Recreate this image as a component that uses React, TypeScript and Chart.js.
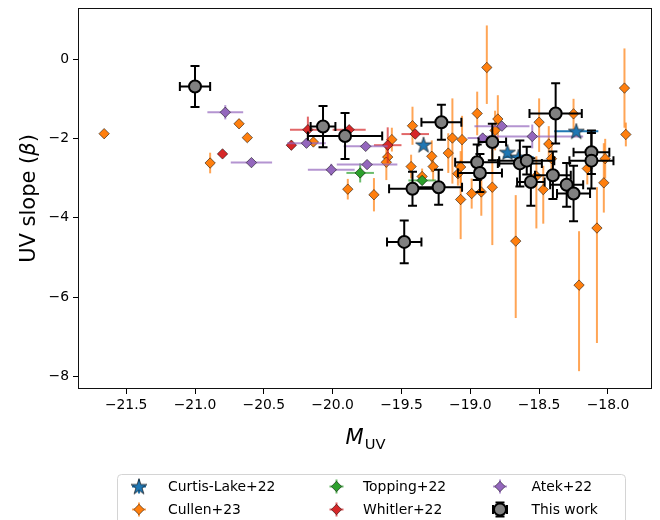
import React, { useEffect, useRef } from 'react';
import { Chart, registerables } from 'chart.js';
Chart.register(...registerables);

// [M_UV, beta, xerr, yerr]
const curtisLake = [
  [-19.34, -2.16, 0.0, 0.0],
  [-18.73, -2.35, 0.0, 0.0],
  [-18.65, -2.47, 0.11, 0.05],
  [-18.23, -1.82, 0.16, 0.05],
];

// [M_UV, beta, yerr_low, yerr_high]
const cullen = [
  [-21.66, -1.88, 0.06, 0.06],
  [-20.89, -2.62, 0.26, 0.26],
  [-20.68, -1.63, 0.08, 0.08],
  [-20.62, -1.98, 0.1, 0.1],
  [-20.14, -2.09, 0.1, 0.1],
  [-19.89, -3.28, 0.26, 0.26],
  [-19.7, -3.42, 0.42, 0.42],
  [-19.57, -2.03, 0.3, 0.3],
  [-19.6, -2.47, 0.2, 0.2],
  [-19.61, -2.6, 0.45, 0.45],
  [-19.42, -1.68, 0.48, 0.48],
  [-19.43, -2.71, 0.3, 0.3],
  [-19.35, -2.96, 0.2, 0.2],
  [-19.28, -2.45, 0.4, 0.4],
  [-19.27, -2.71, 0.35, 0.35],
  [-19.13, -1.99, 1.15, 1.0],
  [-19.06, -2.03, 0.6, 0.6],
  [-19.16, -2.37, 0.5, 0.5],
  [-19.07, -2.72, 0.4, 0.4],
  [-19.09, -2.89, 0.3, 0.3],
  [-19.07, -3.54, 1.0, 1.0],
  [-18.99, -3.39, 0.38, 0.38],
  [-18.95, -1.37, 0.55, 0.55],
  [-18.88, -0.21, 0.92, 1.06],
  [-18.92, -3.35, 0.6, 0.6],
  [-18.84, -3.23, 1.46, 1.0],
  [-18.8, -1.51, 0.6, 0.6],
  [-18.82, -1.8, 0.5, 0.5],
  [-18.67, -4.59, 1.94, 1.16],
  [-18.52, -2.95, 1.32, 0.5],
  [-18.5, -1.59, 0.75, 0.6],
  [-18.47, -3.29, 0.86, 0.6],
  [-18.43, -2.14, 0.45, 0.45],
  [-18.41, -2.51, 0.4, 0.4],
  [-18.25, -1.38, 0.38, 0.38],
  [-18.21, -5.7, 2.17, 1.36],
  [-18.15, -2.76, 0.4, 0.4],
  [-18.08, -4.26, 2.9, 1.03],
  [-18.03, -3.12, 0.75, 1.0],
  [-18.02, -2.51, 0.5, 0.5],
  [-17.88, -0.73, 1.0, 1.0],
  [-17.87, -1.9, 0.3, 0.3],
];

// [M_UV, beta, xerr, yerr]
const topping = [
  [-19.8, -2.87, 0.1, 0.24],
  [-19.35, -3.06, 0.1, 0.1],
];

const whitler = [
  [-20.8, -2.39, 0.03, 0.05],
  [-20.3, -2.17, 0.03, 0.05],
  [-20.18, -1.78, 0.13, 0.33],
  [-19.88, -1.78, 0.12, 0.1],
  [-19.6, -2.17, 0.1, 0.45],
  [-19.4, -1.89, 0.1, 0.1],
];

const atek = [
  [-20.78, -1.34, 0.13, 0.18],
  [-20.59, -2.61, 0.15, 0.03],
  [-20.19, -2.12, 0.14, 0.03],
  [-20.01, -2.79, 0.17, 0.15],
  [-19.76, -2.2, 0.16, 0.03],
  [-19.75, -2.66, 0.22, 0.1],
  [-18.91, -1.99, 0.11, 0.03],
  [-18.77, -1.69, 0.2, 0.03],
  [-18.55, -1.95, 0.37, 0.3],
];

const thisWork = [
  [-21.0, -0.69, 0.11, 0.52],
  [-20.07, -1.7, 0.09, 0.52],
  [-19.91, -1.94, 0.27, 0.58],
  [-19.48, -4.61, 0.125, 0.54],
  [-19.42, -3.27, 0.17, 0.43],
  [-19.23, -3.23, 0.17, 0.44],
  [-19.21, -1.59, 0.145, 0.44],
  [-18.95, -2.6, 0.16, 0.45],
  [-18.93, -2.87, 0.16, 0.48],
  [-18.84, -2.09, 0.1, 0.46],
  [-18.64, -2.63, 0.16, 0.58],
  [-18.59, -2.56, 0.2, 0.35],
  [-18.56, -3.1, 0.1, 0.6],
  [-18.4, -2.93, 0.13, 0.6],
  [-18.38, -1.37, 0.19, 0.76],
  [-18.3, -3.17, 0.12, 0.55],
  [-18.25, -3.39, 0.12, 0.7],
  [-18.12, -2.35, 0.13, 0.55],
  [-18.12, -2.56, 0.16, 0.7],
];

const xTicks = [-21.5, -21.0, -20.5, -20.0, -19.5, -19.0, -18.5, -18.0];
const yTicks = [0, -2, -4, -6, -8];

const X_MIN = -21.85;
const X_MAX = -17.68;
const Y_MIN = -8.32;
const Y_MAX = 1.29;

const FONT = "'DejaVu Sans', sans-serif";

type Row = { x: number; y: number; xl: number; xh: number; yl: number; yh: number };

const symRows = (a: number[][]): Row[] =>
  a.map((r) => ({ x: r[0], y: r[1], xl: r[2], xh: r[2], yl: r[3], yh: r[3] }));
const cullenRows = (a: number[][]): Row[] =>
  a.map((r) => ({ x: r[0], y: r[1], xl: 0, xh: 0, yl: r[2], yh: r[3] }));

function starPath(ctx: CanvasRenderingContext2D, cx: number, cy: number, R: number) {
  const r = R * 0.382;
  ctx.beginPath();
  for (let i = 0; i < 10; i++) {
    const rad = i % 2 === 0 ? R : r;
    const a = -Math.PI / 2 + (i * Math.PI) / 5;
    const px = cx + rad * Math.cos(a);
    const py = cy + rad * Math.sin(a);
    if (i === 0) ctx.moveTo(px, py);
    else ctx.lineTo(px, py);
  }
  ctx.closePath();
}

function makeStar(): HTMLCanvasElement {
  const c = document.createElement('canvas');
  c.width = 20;
  c.height = 20;
  const g = c.getContext('2d')!;
  starPath(g, 10, 10.6, 8.4);
  g.fillStyle = '#1f77b4';
  g.fill();
  g.lineWidth = 0.7;
  g.strokeStyle = '#111';
  g.stroke();
  return c;
}

const fmt = (v: number, d: number) => (v < 0 ? '\u2212' + Math.abs(v).toFixed(d) : v.toFixed(d));

export default function App() {
  const ref = useRef<HTMLCanvasElement>(null);

  useEffect(() => {
    document.body.style.margin = '0';
    const canvas = ref.current!;
    const star = makeStar();

    const sets = [
      { label: 'Curtis-Lake+22', rows: symRows(curtisLake), fill: '#1f77b4', err: '#1f77b4', style: star as any, radius: 8, order: 1, cap: 0, bw: 0, bc: '#111' },
      { label: 'Cullen+23', rows: cullenRows(cullen), fill: '#ff7f0e', err: 'rgba(255,127,14,0.7)', style: 'rectRot', radius: 5.2, order: 5, cap: 0, bw: 0.7, bc: 'rgba(0,0,0,0.75)' },
      { label: 'Topping+22', rows: symRows(topping), fill: '#2ca02c', err: 'rgba(44,160,44,0.7)', style: 'rectRot', radius: 5.2, order: 4, cap: 0, bw: 0.7, bc: 'rgba(0,0,0,0.75)' },
      { label: 'Whitler+22', rows: symRows(whitler), fill: '#d62728', err: 'rgba(214,39,40,0.7)', style: 'rectRot', radius: 5.2, order: 3, cap: 0, bw: 0.7, bc: 'rgba(0,0,0,0.75)' },
      { label: 'Atek+22', rows: symRows(atek), fill: '#9467bd', err: 'rgba(148,103,189,0.7)', style: 'rectRot', radius: 5.2, order: 2, cap: 0, bw: 0.7, bc: 'rgba(0,0,0,0.75)' },
      { label: 'This work', rows: symRows(thisWork), fill: '#808080', err: '#000', style: 'circle', radius: 6, order: 0, cap: 4.5, bw: 2, bc: '#000' },
    ];

    const errorBars = {
      id: 'errorBars',
      beforeDatasetDraw(chart: any, args: any) {
        const ds: any = chart.data.datasets[args.index];
        if (!ds.rows) return;
        const { ctx, chartArea } = chart;
        const xs = chart.scales.x;
        const ys = chart.scales.y;
        ctx.save();
        ctx.beginPath();
        ctx.rect(chartArea.left, chartArea.top, chartArea.right - chartArea.left, chartArea.bottom - chartArea.top);
        ctx.clip();
        ctx.strokeStyle = ds.errColor;
        ctx.lineWidth = 2;
        ctx.lineCap = 'butt';
        for (const r of ds.rows as Row[]) {
          const px = xs.getPixelForValue(r.x);
          const py = ys.getPixelForValue(r.y);
          const cap = ds.cap;
          if (r.xl > 0 || r.xh > 0) {
            const x0 = xs.getPixelForValue(r.x - r.xl);
            const x1 = xs.getPixelForValue(r.x + r.xh);
            ctx.beginPath();
            ctx.moveTo(x0, py);
            ctx.lineTo(x1, py);
            if (cap > 0) {
              ctx.moveTo(x0, py - cap);
              ctx.lineTo(x0, py + cap);
              ctx.moveTo(x1, py - cap);
              ctx.lineTo(x1, py + cap);
            }
            ctx.stroke();
          }
          if (r.yl > 0 || r.yh > 0) {
            const y0 = ys.getPixelForValue(r.y - r.yl);
            const y1 = ys.getPixelForValue(r.y + r.yh);
            ctx.beginPath();
            ctx.moveTo(px, y0);
            ctx.lineTo(px, y1);
            if (cap > 0) {
              ctx.moveTo(px - cap, y0);
              ctx.lineTo(px + cap, y0);
              ctx.moveTo(px - cap, y1);
              ctx.lineTo(px + cap, y1);
            }
            ctx.stroke();
          }
        }
        ctx.restore();
      },
    };

    const decorations = {
      id: 'decorations',
      afterDraw(chart: any) {
        const { ctx, chartArea: a } = chart;
        ctx.save();
        // frame
        ctx.strokeStyle = '#111';
        ctx.lineWidth = 1;
        ctx.strokeRect(Math.round(a.left) + 0.5, Math.round(a.top) + 0.5, Math.round(a.right - a.left) - 1, Math.round(a.bottom - a.top) - 1);

        // y title
        ctx.fillStyle = '#000';
        ctx.textBaseline = 'alphabetic';
        ctx.save();
        ctx.translate(35, (a.top + a.bottom) / 2);
        ctx.rotate(-Math.PI / 2);
        const fs = 21;
        ctx.font = `${fs}px ${FONT}`;
        const p1 = 'UV slope (';
        const p3 = ')';
        const w1 = ctx.measureText(p1).width;
        const w3 = ctx.measureText(p3).width;
        ctx.font = `italic ${fs}px ${FONT}`;
        const w2 = ctx.measureText('\u03b2').width;
        let sx = -(w1 + w2 + w3) / 2;
        ctx.font = `${fs}px ${FONT}`;
        ctx.fillText(p1, sx, 0);
        ctx.font = `italic ${fs}px ${FONT}`;
        ctx.fillText('\u03b2', sx + w1, 0);
        ctx.font = `${fs}px ${FONT}`;
        ctx.fillText(p3, sx + w1 + w2, 0);
        ctx.restore();

        // x title
        ctx.font = `italic ${fs}px ${FONT}`;
        const wm = ctx.measureText('M').width;
        ctx.font = `${14.7}px ${FONT}`;
        const wuv = ctx.measureText('UV').width;
        const cx = (a.left + a.right) / 2;
        let tx = cx - (wm + wuv) / 2;
        ctx.font = `italic ${fs}px ${FONT}`;
        ctx.fillText('M', tx, 444);
        ctx.font = `${14.7}px ${FONT}`;
        ctx.fillText('UV', tx + wm + 1, 448.5);

        // legend
        const lx = 117.5, ly = 474.5, lw = 508, lh = 60;
        ctx.beginPath();
        const rr = 4;
        ctx.moveTo(lx + rr, ly);
        ctx.lineTo(lx + lw - rr, ly);
        ctx.quadraticCurveTo(lx + lw, ly, lx + lw, ly + rr);
        ctx.lineTo(lx + lw, ly + lh);
        ctx.lineTo(lx, ly + lh);
        ctx.lineTo(lx, ly + rr);
        ctx.quadraticCurveTo(lx, ly, lx + rr, ly);
        ctx.closePath();
        ctx.fillStyle = 'rgba(255,255,255,0.8)';
        ctx.fill();
        ctx.strokeStyle = '#d4d4d4';
        ctx.lineWidth = 1;
        ctx.stroke();

        const colMarker = [139, 336.5, 500];
        const colText = [168, 363, 531.5];
        const rowY = [486.5, 509.5];
        // column-major ordering
        sets.forEach((s, i) => {
          const col = Math.floor(i / 2);
          const row = i % 2;
          const mx = colMarker[col];
          const my = rowY[row];
          const isThis = s.label === 'This work';
          const L = 7;
          ctx.strokeStyle = s.err;
          ctx.lineWidth = 2;
          ctx.beginPath();
          ctx.moveTo(mx - L, my);
          ctx.lineTo(mx + L, my);
          ctx.moveTo(mx, my - L);
          ctx.lineTo(mx, my + L);
          if (isThis) {
            ctx.moveTo(mx - L, my - 4.5);
            ctx.lineTo(mx - L, my + 4.5);
            ctx.moveTo(mx + L, my - 4.5);
            ctx.lineTo(mx + L, my + 4.5);
            ctx.moveTo(mx - 4.5, my - L);
            ctx.lineTo(mx + 4.5, my - L);
            ctx.moveTo(mx - 4.5, my + L);
            ctx.lineTo(mx + 4.5, my + L);
          }
          ctx.stroke();
          if (s.style === 'rectRot') {
            const r = s.radius;
            ctx.beginPath();
            ctx.moveTo(mx - r, my);
            ctx.lineTo(mx, my - r);
            ctx.lineTo(mx + r, my);
            ctx.lineTo(mx, my + r);
            ctx.closePath();
            ctx.fillStyle = s.fill;
            ctx.fill();
            ctx.lineWidth = 0.7;
            ctx.strokeStyle = s.bc;
            ctx.stroke();
          } else if (isThis) {
            ctx.beginPath();
            ctx.arc(mx, my, 6, 0, Math.PI * 2);
            ctx.fillStyle = s.fill;
            ctx.fill();
            ctx.lineWidth = 2;
            ctx.strokeStyle = '#000';
            ctx.stroke();
          } else {
            ctx.drawImage(star, mx - 10, my - 10);
          }
          ctx.fillStyle = '#000';
          ctx.font = `13.9px ${FONT}`;
          ctx.textBaseline = 'middle';
          ctx.fillText(s.label, colText[col], my + 0.5);
        });
        ctx.restore();
      },
    };

    const chart = new Chart(canvas, {
      type: 'scatter',
      data: {
        datasets: sets.map((s) => ({
          label: s.label,
          data: s.rows.map((r) => ({ x: r.x, y: r.y })),
          rows: s.rows,
          errColor: s.err,
          cap: s.cap,
          order: s.order,
          pointStyle: s.style,
          pointRadius: s.radius,
          pointHoverRadius: s.radius,
          pointBackgroundColor: s.fill,
          pointBorderColor: s.bc,
          pointBorderWidth: s.bw,
          pointHoverBorderWidth: s.bw,
          showLine: false,
        })) as any,
      },
      options: {
        responsive: false,
        animation: false,
        events: [],
        layout: { padding: { top: 5, right: 8, left: 0, bottom: 0 } },
        plugins: {
          legend: { display: false },
          tooltip: { enabled: false },
          title: { display: false },
        },
        scales: {
          x: {
            type: 'linear',
            min: X_MIN,
            max: X_MAX,
            afterBuildTicks: (scale: any) => {
              scale.ticks = xTicks.map((v) => ({ value: v }));
            },
            afterFit: (scale: any) => {
              scale.height = 131;
              scale.paddingLeft = 0;
              scale.paddingRight = 0;
            },
            ticks: {
              autoSkip: false,
              maxRotation: 0,
              color: '#000',
              padding: 3,
              font: { family: FONT, size: 13.9 },
              callback: (v: any) => fmt(Number(v), 1),
            },
            grid: { drawOnChartArea: false, drawTicks: true, tickLength: 5, color: '#000', lineWidth: 1 },
            border: { display: false },
          },
          y: {
            type: 'linear',
            min: Y_MIN,
            max: Y_MAX,
            afterBuildTicks: (scale: any) => {
              scale.ticks = yTicks.map((v) => ({ value: v }));
            },
            afterFit: (scale: any) => {
              scale.width = 78;
              scale.paddingTop = 0;
              scale.paddingBottom = 0;
            },
            ticks: {
              autoSkip: false,
              color: '#000',
              padding: 4,
              font: { family: FONT, size: 13.9 },
              callback: (v: any) => fmt(Number(v), 0),
            },
            grid: { drawOnChartArea: false, drawTicks: true, tickLength: 5, color: '#000', lineWidth: 1 },
            border: { display: false },
          },
        },
      },
      plugins: [errorBars, decorations],
    });

    return () => {
      chart.destroy();
    };
  }, []);

  return (
    <div style={{ width: 660, height: 520 }}>
      <canvas ref={ref} width={660} height={520} style={{ display: 'block' }} />
    </div>
  );
}
